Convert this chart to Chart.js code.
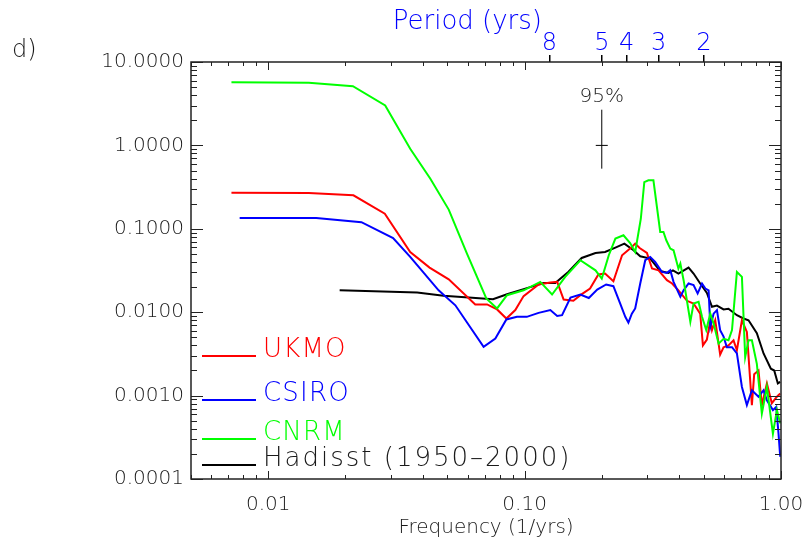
<!DOCTYPE html>
<html>
<head>
<meta charset="utf-8">
<title>Spectra d)</title>
<script src="https://cdn.jsdelivr.net/npm/chart.js@4.4.1/dist/chart.umd.min.js"></script>
<style>
  html, body { margin: 0; padding: 0; background: #fff; }
  #wrap { width: 806px; height: 542px; }
</style>
</head>
<body>
<div id="wrap"><canvas id="spec" width="806" height="542"></canvas></div>
<script>
// values (frequency in 1/yrs, power)
const ukmoFreq  = [0.00719, 0.0144, 0.0215, 0.0285, 0.0358, 0.0426, 0.0506, 0.0642, 0.0714, 0.0781, 0.0849, 0.092, 0.0991, 0.1134, 0.126, 0.134, 0.142, 0.155, 0.165, 0.180, 0.194, 0.206, 0.222, 0.240, 0.262, 0.270, 0.281, 0.300, 0.314, 0.333, 0.359, 0.376, 0.398, 0.430, 0.456, 0.484, 0.496, 0.514, 0.530, 0.538, 0.554, 0.579, 0.597, 0.624, 0.653, 0.673, 0.704, 0.736, 0.770, 0.786, 0.817, 0.842, 0.881, 0.921, 0.964, 0.993];
const ukmoPower = [0.271, 0.269, 0.252, 0.152, 0.0527, 0.0343, 0.0248, 0.0124, 0.0124, 0.0108, 0.0084, 0.0106, 0.0156, 0.0215, 0.0227, 0.0231, 0.0142, 0.0137, 0.0160, 0.0192, 0.0283, 0.0291, 0.0235, 0.0482, 0.0605, 0.0665, 0.0589, 0.0513, 0.0334, 0.0318, 0.0242, 0.0221, 0.0183, 0.0137, 0.0127, 0.0096, 0.0040, 0.0047, 0.0080, 0.0061, 0.0080, 0.0031, 0.0038, 0.0040, 0.0046, 0.0035, 0.0080, 0.0058, 0.00077, 0.0018, 0.0020, 0.00077, 0.0014, 0.00081, 0.00097, 0.00106];

const csiroFreq  = [0.00774, 0.0154, 0.0231, 0.0307, 0.0358, 0.0462, 0.0537, 0.0692, 0.0769, 0.0849, 0.0934, 0.102, 0.1134, 0.126, 0.134, 0.140, 0.151, 0.165, 0.178, 0.192, 0.208, 0.222, 0.236, 0.247, 0.254, 0.262, 0.270, 0.2825, 0.2955, 0.309, 0.323, 0.343, 0.359, 0.370, 0.381, 0.405, 0.417, 0.436, 0.456, 0.473, 0.492, 0.507, 0.522, 0.530, 0.546, 0.5625, 0.579, 0.597, 0.615, 0.644, 0.673, 0.704, 0.736, 0.770, 0.817, 0.855, 0.881, 0.930, 0.958, 0.978, 0.993];
const csiroPower = [0.135, 0.135, 0.120, 0.0776, 0.0460, 0.0183, 0.0121, 0.00384, 0.00484, 0.00818, 0.00879, 0.00879, 0.00981, 0.0106, 0.0090, 0.0092, 0.0150, 0.0163, 0.0148, 0.0187, 0.0215, 0.0205, 0.0127, 0.0088, 0.0075, 0.0096, 0.0111, 0.0221, 0.0420, 0.0460, 0.0400, 0.0304, 0.0296, 0.0318, 0.0231, 0.0153, 0.0183, 0.0221, 0.0211, 0.0168, 0.0221, 0.0192, 0.0183, 0.0067, 0.0096, 0.0106, 0.0061, 0.0051, 0.0038, 0.0038, 0.0032, 0.00127, 0.00077, 0.00116, 0.00097, 0.00116, 0.00088, 0.00067, 0.00073, 0.00035, 0.000185];

const cnrmFreq  = [0.00719, 0.0144, 0.0214, 0.0286, 0.0358, 0.0429, 0.0506, 0.0596, 0.0709, 0.0781, 0.0854, 0.0991, 0.1151, 0.128, 0.144, 0.165, 0.189, 0.200, 0.213, 0.226, 0.243, 0.258, 0.270, 0.284, 0.293, 0.304, 0.318, 0.338, 0.348, 0.357, 0.370, 0.381, 0.398, 0.405, 0.417, 0.443, 0.456, 0.477, 0.492, 0.511, 0.530, 0.546, 0.571, 0.597, 0.624, 0.644, 0.673, 0.704, 0.725, 0.747, 0.770, 0.805, 0.842, 0.881, 0.930, 0.964, 0.993];
const cnrmPower = [5.73, 5.64, 5.13, 3.01, 0.913, 0.399, 0.170, 0.0505, 0.0146, 0.0111, 0.0160, 0.0183, 0.0231, 0.0163, 0.0265, 0.0420, 0.0318, 0.0253, 0.0482, 0.0763, 0.0836, 0.0676, 0.0527, 0.132, 0.363, 0.381, 0.381, 0.0916, 0.0916, 0.0728, 0.0579, 0.0553, 0.0334, 0.0383, 0.0242, 0.0077, 0.0127, 0.0133, 0.0088, 0.0061, 0.0096, 0.0073, 0.0042, 0.0048, 0.0046, 0.0061, 0.0304, 0.0265, 0.0029, 0.0046, 0.0046, 0.0024, 0.00061, 0.00127, 0.00035, 0.00067, 0.000465];

const hadFreq  = [0.019, 0.0381, 0.0483, 0.0605, 0.0753, 0.0854, 0.0991, 0.1186, 0.1317, 0.148, 0.167, 0.189, 0.206, 0.226, 0.245, 0.266, 0.2825, 0.309, 0.338, 0.364, 0.379, 0.398, 0.436, 0.456, 0.484, 0.514, 0.538, 0.5625, 0.597, 0.624, 0.673, 0.714, 0.747, 0.805, 0.855, 0.913, 0.941, 0.972, 0.993];
const hadPower = [0.0183, 0.0172, 0.0157, 0.0150, 0.0143, 0.0164, 0.0189, 0.0224, 0.0224, 0.0304, 0.0447, 0.0513, 0.0527, 0.0596, 0.0665, 0.0553, 0.0469, 0.0440, 0.0312, 0.0296, 0.0318, 0.0291, 0.0343, 0.0291, 0.0221, 0.0170, 0.0116, 0.0120, 0.0108, 0.0110, 0.0092, 0.0084, 0.0080, 0.0056, 0.0032, 0.0021, 0.0020, 0.0014, 0.00146];

// 95% confidence bar
const ciFreq = 0.2;
const ciRange = [0.526, 2.68];
const ciMid = 1.0;

// axis ticks
const freqTicks = [0.01, 0.1, 1.0];
const powerTicks = [0.0001, 0.001, 0.01, 0.1, 1, 10];
const periodTicks = [8, 5, 4, 3, 2];
const freqRange = [0.005, 1.0];
const powerRange = [0.0001, 10];

const FONT = "'DejaVu Sans', sans-serif";
const TXT = "#1a1a1a";

function pts(xs, ys) {
  const n = Math.min(xs.length, ys.length);
  const out = [];
  for (let i = 0; i < n; i++) out.push({ x: xs[i], y: ys[i] });
  return out;
}

function series(label, color, xs, ys, order) {
  return {
    label, data: pts(xs, ys), borderColor: color, backgroundColor: color,
    borderWidth: 2, pointRadius: 0, tension: 0, order, isSeries: true
  };
}

// fixed box sizes, no extra label padding, so the plot frame sits where it should
function fixBox(size) {
  return s => {
    if (s.isHorizontal()) s.height = size; else s.width = size;
    s.paddingLeft = 0; s.paddingRight = 0; s.paddingTop = 0; s.paddingBottom = 0;
  };
}

// inside tick marks on all four sides + frame
const frameTicks = {
  id: "frameTicks",
  afterDatasetsDraw(chart) {
    const { ctx, chartArea: a, scales: { x, y } } = chart;
    ctx.save();
    ctx.strokeStyle = "#222";
    ctx.lineWidth = 1;
    const line = (x1, y1, x2, y2) => { ctx.beginPath(); ctx.moveTo(x1, y1); ctx.lineTo(x2, y2); ctx.stroke(); };
    for (let e = -3; e <= 0; e++) {
      for (let m = 1; m <= 9; m++) {
        const v = m * Math.pow(10, e);
        if (v < x.min * 0.999 || v > x.max * 1.001) continue;
        const px = Math.round(x.getPixelForValue(v)) + 0.5;
        const len = m === 1 ? 8 : 4;
        line(px, a.bottom, px, a.bottom - len);
        line(px, a.top, px, a.top + len);
      }
    }
    for (let e = -4; e <= 1; e++) {
      for (let m = 1; m <= 9; m++) {
        const v = m * Math.pow(10, e);
        if (v < y.min * 0.999 || v > y.max * 1.001) continue;
        const py = Math.round(y.getPixelForValue(v)) + 0.5;
        const len = m === 1 ? 12 : 6;
        line(a.left, py, a.left + len, py);
        line(a.right, py, a.right - len, py);
      }
    }
    ctx.lineWidth = 1.5;
    ctx.strokeRect(a.left, a.top, a.right - a.left, a.bottom - a.top);
    ctx.restore();
  }
};

// legend drawn inside the plot, plus the free text labels
const annotations = {
  id: "annotations",
  afterDraw(chart, args, opts) {
    const { ctx, scales: { x, y } } = chart;
    ctx.save();
    const rows = chart.data.datasets.filter(d => d.isSeries);
    rows.forEach((d, i) => {
      const ly = opts.legendY[i];
      ctx.strokeStyle = d.borderColor;
      ctx.lineWidth = 2;
      ctx.beginPath();
      ctx.moveTo(opts.legendX[0], ly);
      ctx.lineTo(opts.legendX[1], ly);
      ctx.stroke();
      ctx.fillStyle = d.borderColor === "#000000" ? TXT : d.borderColor;
      ctx.font = "200 26px " + FONT;
      ctx.letterSpacing = i === 3 ? "2px" : "1.2px";
      ctx.textAlign = "left";
      ctx.textBaseline = "alphabetic";
      ctx.fillText(d.label, opts.legendX[1] + 7, ly + 1);
    });
    ctx.letterSpacing = "0px";

    // 95% label above the confidence bar
    ctx.fillStyle = TXT;
    ctx.font = "200 20px " + FONT;
    ctx.textAlign = "center";
    ctx.textBaseline = "middle";
    ctx.fillText("95%", x.getPixelForValue(ciFreq), y.getPixelForValue(ciRange[1]) - 13);

    // panel letter
    ctx.font = "200 24px " + FONT;
    ctx.textAlign = "left";
    ctx.fillText("d)", 12, 51);

    // top axis title
    ctx.fillStyle = "#0000ff";
    ctx.font = "200 26px " + FONT;
    ctx.textAlign = "right";
    ctx.fillText("Period (yrs)", 542, 22);
    ctx.restore();
  }
};

const ctx = document.getElementById("spec").getContext("2d");
new Chart(ctx, {
  type: "line",
  data: {
    datasets: [
      series("UKMO", "#ff0000", ukmoFreq, ukmoPower, 3),
      series("CSIRO", "#0000ff", csiroFreq, csiroPower, 2),
      series("CNRM", "#00ff00", cnrmFreq, cnrmPower, 1),
      series("Hadisst (1950\u20132000)", "#000000", hadFreq, hadPower, 4),
      {
        label: "95% bar", data: pts([ciFreq, ciFreq], ciRange),
        borderColor: "#000", borderWidth: 1, pointRadius: 0, order: 0
      },
      {
        label: "95% mid", data: pts([ciFreq], [ciMid]), showLine: false,
        borderColor: "#000", borderWidth: 1, pointStyle: "line", pointRadius: 6, order: 0
      }
    ]
  },
  options: {
    responsive: false,
    animation: false,
    devicePixelRatio: 1,
    layout: { padding: 0 },
    plugins: {
      legend: { display: false },
      tooltip: { enabled: false },
      annotations: { legendX: [202, 256], legendY: [356, 400, 439, 465] }
    },
    scales: {
      x: {
        type: "logarithmic", position: "bottom",
        min: freqRange[0], max: freqRange[1],
        afterBuildTicks: s => { s.ticks = freqTicks.map(v => ({ value: v })); },
        afterFit: fixBox(63),
        grid: { display: false, drawTicks: false },
        border: { display: false },
        ticks: {
          autoSkip: false, maxRotation: 0, padding: 14,
          color: TXT, font: { family: FONT, size: 20, weight: 200 },
          callback: v => Number(v).toFixed(2)
        },
        title: {
          display: true, text: "Frequency (1/yrs)", color: TXT,
          font: { family: FONT, size: 20, weight: 200 }, padding: { top: 0, bottom: 2 }
        }
      },
      x2: {
        type: "logarithmic", position: "top",
        min: freqRange[0], max: freqRange[1],
        afterBuildTicks: s => { s.ticks = periodTicks.map(p => ({ value: 1 / p })); },
        afterFit: fixBox(62),
        grid: { display: true, drawOnChartArea: false, drawTicks: true, tickLength: 7, color: "#000", lineWidth: 1.5 },
        border: { display: false },
        ticks: {
          autoSkip: false, maxRotation: 0, padding: -3,
          color: "#0000ff", font: { family: FONT, size: 24, weight: 200 },
          callback: v => String(Math.round(1 / v))
        }
      },
      y: {
        type: "logarithmic", position: "left",
        min: powerRange[0], max: powerRange[1],
        afterBuildTicks: s => { s.ticks = powerTicks.map(v => ({ value: v })); },
        afterFit: fixBox(191),
        grid: { display: false, drawTicks: false },
        border: { display: false },
        ticks: {
          autoSkip: false, padding: 7,
          color: TXT, font: { family: FONT, size: 20, weight: 200 },
          callback: v => Number(v).toFixed(4)
        }
      },
      y2: {
        type: "logarithmic", position: "right",
        min: powerRange[0], max: powerRange[1],
        afterFit: fixBox(25),
        grid: { display: false, drawTicks: false },
        border: { display: false },
        ticks: { display: false }
      }
    }
  },
  plugins: [frameTicks, annotations]
});
</script>
</body>
</html>
